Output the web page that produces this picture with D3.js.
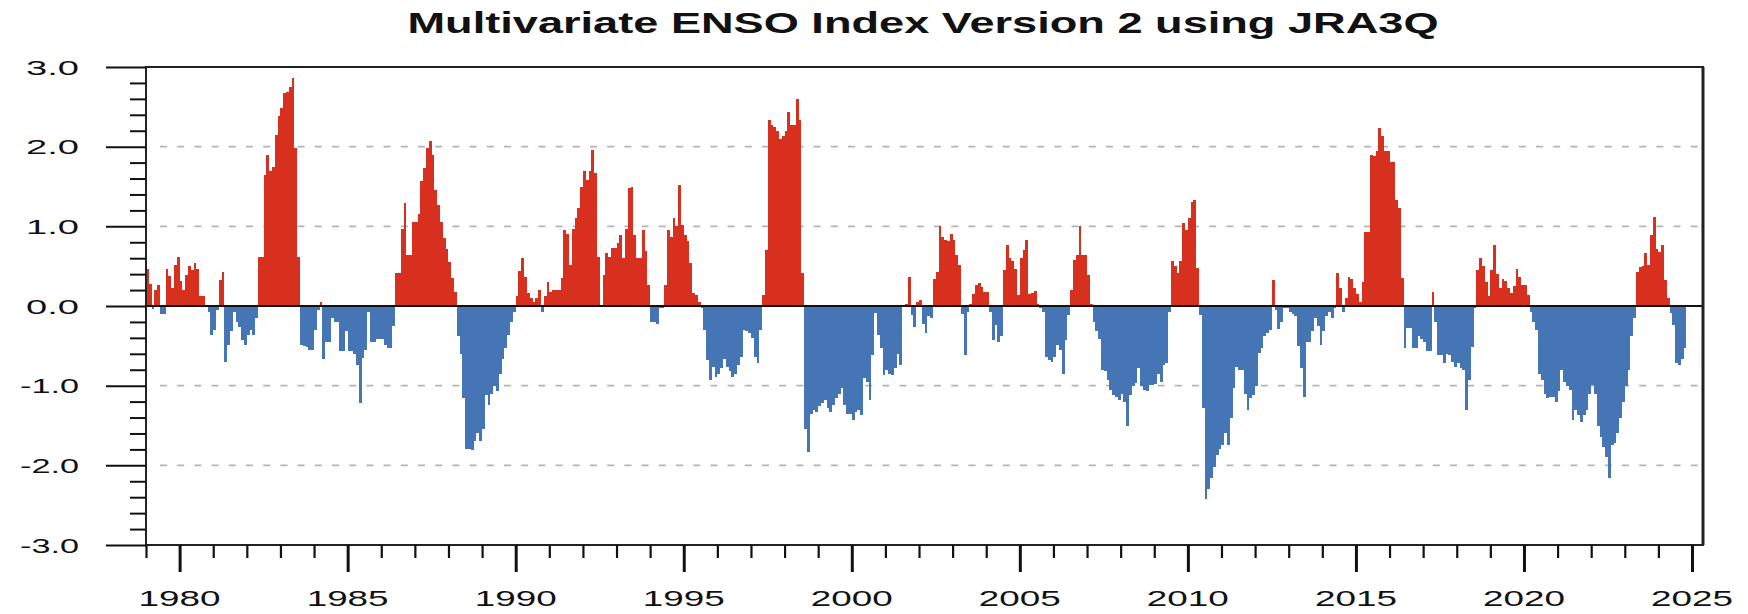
<!DOCTYPE html>
<html><head><meta charset="utf-8">
<script src="https://cdn.jsdelivr.net/npm/d3@7"></script>
<style>html,body{margin:0;padding:0;background:#fff;} svg{display:block;}</style>
</head><body>
<svg id="chart" width="1748" height="614"></svg>
<script>
// ---------------- DATA ----------------
const chartTitle = "Multivariate ENSO Index Version 2 using JRA3Q";
const startYear = 1979;           // first month = Jan 1979, monthly values
const mei1979 = [0.46,0.28,-0.04,0.20,0.26,-0.10,-0.10,0.46,0.38,0.22,0.52,0.62];
const mei1980s = [
  0.32,0.20,0.39,0.50,0.45,0.54,0.46,0.12,0.12,0.01,-0.08,-0.36,
  -0.30,-0.05,0.33,0.43,-0.70,-0.49,-0.32,-0.07,-0.20,-0.26,-0.43,-0.49,
  -0.36,-0.30,-0.36,-0.15,0.62,0.62,1.64,1.90,1.69,1.75,2.15,2.38,
  2.48,2.67,2.68,2.75,2.86,1.98,0.62,-0.49,-0.50,-0.52,-0.55,-0.55,
  -0.30,-0.05,0.05,-0.66,-0.45,-0.45,-0.15,-0.20,-0.20,-0.57,-0.57,-0.32,
  -0.57,-0.57,-0.60,-0.74,-1.22,-0.65,-0.55,-0.07,-0.45,-0.45,-0.42,-0.42,
  -0.42,-0.49,-0.53,-0.53,-0.25,0.41,0.41,0.97,1.29,0.64,0.64,1.06,
  1.05,1.16,1.57,1.73,1.98,2.07,1.90,1.46,1.27,1.05,0.85,0.72,
  0.55,0.35,0.18,-0.38,-0.60,-1.16,-1.79,-1.79,-1.81,-1.70,-1.60,-1.70,
  -1.54,-1.12,-1.24,-1.10,-1.01,-1.07,-0.85,-0.66,-0.53,-0.36,-0.20,-0.07
];
const mei1990s = [
  0.12,0.44,0.60,0.37,0.16,0.10,0.05,0.10,0.20,-0.07,0.12,0.30,
  0.18,0.20,0.20,0.20,0.35,0.95,0.90,0.52,0.97,1.10,1.23,1.50,
  1.69,1.58,1.70,1.96,1.67,0.62,0.01,0.39,0.66,0.62,0.73,0.73,
  0.79,0.89,0.60,0.97,1.48,1.50,0.89,0.60,0.60,0.95,0.69,0.26,
  -0.20,-0.20,-0.22,-0.02,-0.02,0.26,0.95,0.87,1.10,1.00,1.52,1.02,
  0.89,0.81,0.54,0.16,0.14,0.05,-0.02,-0.30,-0.68,-0.93,-0.76,-0.89,
  -0.85,-0.78,-0.66,-0.76,-0.82,-0.89,-0.85,-0.74,-0.64,-0.30,-0.32,-0.34,
  -0.40,-0.64,-0.72,-0.30,0.14,0.70,2.33,2.27,2.25,2.20,2.10,2.13,
  2.20,2.44,2.27,2.27,2.60,2.33,0.41,-1.54,-1.83,-1.35,-1.30,-1.33,
  -1.26,-1.22,-1.18,-1.28,-1.33,-1.24,-1.16,-1.10,-1.03,-1.24,-1.35,-1.35
];
const mei2000s = [
  -1.43,-1.33,-1.30,-1.37,-0.91,-0.95,-1.18,-0.62,-0.09,-0.36,-0.53,-0.87,
  -0.80,-0.85,-0.87,-0.78,-0.60,-0.74,0.00,0.03,0.37,-0.11,-0.26,0.05,
  0.08,-0.22,-0.34,-0.13,-0.15,0.34,0.43,1.00,0.86,0.83,0.81,0.90,
  0.83,0.64,0.52,-0.10,-0.62,-0.07,0.03,0.15,0.26,0.29,0.24,0.18,
  0.17,-0.07,-0.43,-0.24,-0.45,-0.38,0.45,0.77,0.60,0.56,0.47,0.14,
  0.60,0.70,0.83,0.15,0.16,0.19,0.02,-0.03,-0.07,-0.64,-0.68,-0.70,
  -0.64,-0.49,-0.55,-0.85,-0.43,-0.11,0.20,0.58,0.64,1.00,0.64,0.64,
  0.39,0.03,-0.20,-0.32,-0.41,-0.80,-0.82,-0.93,-1.05,-1.12,-1.14,-1.18,
  -1.10,-1.20,-1.51,-1.12,-1.01,-0.97,-0.78,-1.01,-1.05,-1.07,-0.99,-0.99,
  -0.98,-0.85,-0.95,-0.74,-0.72,-0.07,0.56,0.50,0.42,0.56,1.04,0.95
];
const mei2010s = [
  1.10,1.30,1.33,0.48,-0.11,-1.28,-2.42,-2.30,-2.16,-2.02,-1.87,-1.79,
  -1.74,-1.60,-1.74,-1.40,-1.03,-0.76,-0.80,-0.80,-1.10,-1.30,-1.16,-1.12,
  -1.00,-0.59,-0.53,-0.38,-0.34,-0.30,0.33,-0.05,-0.29,-0.20,-0.02,-0.03,
  -0.07,-0.10,-0.12,-0.50,-0.78,-1.14,-0.45,-0.45,-0.32,-0.15,-0.25,-0.49,
  -0.32,-0.13,-0.07,-0.15,-0.02,0.41,0.22,-0.08,0.10,0.37,0.34,0.22,
  0.15,0.05,0.30,0.93,0.93,1.90,1.88,1.95,2.24,2.13,1.94,1.94,
  1.81,1.81,1.33,1.23,0.35,-0.53,-0.28,-0.28,-0.53,-0.53,-0.38,-0.42,
  -0.45,-0.57,-0.57,0.18,-0.20,-0.62,-0.62,-0.72,-0.60,-0.62,-0.70,-0.76,
  -0.72,-0.78,-0.80,-1.30,-0.93,-0.51,-0.03,0.45,0.60,0.50,0.30,0.12,
  0.45,0.77,0.40,0.22,0.34,0.31,0.22,0.16,0.25,0.47,0.37,0.26
];
const mei2020s = [
  0.26,0.14,-0.07,-0.20,-0.30,-0.85,-0.93,-1.10,-1.16,-1.14,-1.14,-1.20,
  -1.07,-0.80,-0.95,-1.00,-1.05,-1.43,-1.30,-1.37,-1.45,-1.37,-1.30,-1.10,
  -0.99,-1.10,-1.50,-1.64,-1.77,-1.89,-2.16,-1.74,-1.72,-1.60,-1.40,-1.20,
  -1.00,-0.80,-0.38,-0.15,0.43,0.49,0.50,0.66,0.51,0.89,1.12,0.72,
  0.68,0.77,0.33,0.10,-0.09,-0.24,-0.72,-0.74,-0.66,-0.53
];
const yTickValues = [3,2,1,0,-1,-2,-3];
const yTickLabels = ["3.0","2.0","1.0","0.0","-1.0","-2.0","-3.0"];
const gridValues = [2,1,-1,-2];
const xLabelYears = [1980,1985,1990,1995,2000,2005,2010,2015,2020,2025];
const xLabelTexts = ["1980","1985","1990","1995","2000","2005","2010","2015","2020","2025"];

// ---------------- CHART ----------------
const values = [].concat(mei1979, mei1980s, mei1990s, mei2000s, mei2010s, mei2020s);
const data = values.map((v, i) => ({ t: startYear + i / 12, v }));

const svg = d3.select("#chart");
const L = 146, R = 1703, T = 67, B = 545;
const x = d3.scaleLinear().domain([1979, 2025.327]).range([L, R]);
const y = d3.scaleLinear().domain([-3, 3]).range([B, T]);
const RED = "#d7301f", BLUE = "#4575b4";
const FONT = "'Liberation Sans', Arial, Helvetica, sans-serif";

svg.append("rect").attr("width", 1748).attr("height", 614).attr("fill", "#fff");

// grid
svg.append("g").selectAll("line").data(gridValues).join("line")
  .attr("x1", L + 14).attr("x2", R).attr("y1", d => y(d)).attr("y2", d => y(d))
  .attr("stroke", "#b4b4b4").attr("stroke-width", 1.6).attr("stroke-dasharray", "7,10.2");

// bars (pixel-snapped, contiguous)
svg.append("g").attr("shape-rendering", "crispEdges")
  .selectAll("rect").data(data).join("rect")
  .attr("x", d => Math.round(x(d.t)))
  .attr("width", d => Math.round(x(d.t + 1 / 12)) - Math.round(x(d.t)))
  .attr("y", d => d.v >= 0 ? y(d.v) : y(0))
  .attr("height", d => Math.abs(y(d.v) - y(0)))
  .attr("fill", d => d.v >= 0 ? RED : BLUE);

// zero line
svg.append("line").attr("x1", L).attr("x2", R).attr("y1", y(0)).attr("y2", y(0))
  .attr("stroke", "#111").attr("stroke-width", 2);

// frame
svg.append("rect").attr("x", L).attr("y", T).attr("width", R - L).attr("height", B - T)
  .attr("fill", "none").attr("stroke", "#222").attr("stroke-width", 2);
svg.append("line").attr("x1", R).attr("x2", R).attr("y1", T).attr("y2", B)
  .attr("stroke", "#222").attr("stroke-width", 3);

// y axis ticks
const yMinor = d3.range(-30, 31, 2).map(d => d / 10).filter(d => Math.abs(d - Math.round(d)) > 1e-6);
const yMinorAxis = d3.axisLeft(y).tickValues(yMinor).tickSize(16).tickFormat("");
const yMajorAxis = d3.axisLeft(y).tickValues(yTickValues).tickSize(40).tickFormat("");
[yMinorAxis, yMajorAxis].forEach(ax => {
  const g = svg.append("g").attr("transform", `translate(${L},0)`).call(ax);
  g.select(".domain").remove();
  g.selectAll("line").attr("stroke", "#111").attr("stroke-width", 2);
});
svg.append("g").selectAll("text").data(yTickValues).join("text")
  .attr("x", 79).attr("y", d => y(d)).attr("dy", "0.36em")
  .attr("text-anchor", "end")
  .attr("font-family", FONT).attr("font-size", 21).attr("fill", "#111")
  .attr("textLength", (d, i) => yTickLabels[i].startsWith("-") ? 59 : 53)
  .attr("lengthAdjust", "spacingAndGlyphs")
  .text((d, i) => yTickLabels[i]);

// x axis ticks
const xYears = d3.range(1979, 2026);
const xMinorAxis = d3.axisBottom(x).tickValues(xYears.filter(yr => yr % 5 !== 0)).tickSize(13).tickFormat("");
const xMajorAxis = d3.axisBottom(x).tickValues(xLabelYears).tickSize(27).tickFormat("");
const gMin = svg.append("g").attr("transform", `translate(0,${B})`).call(xMinorAxis);
gMin.select(".domain").remove();
gMin.selectAll("line").attr("stroke", "#111").attr("stroke-width", 2.2);
const gMaj = svg.append("g").attr("transform", `translate(0,${B})`).call(xMajorAxis);
gMaj.select(".domain").remove();
gMaj.selectAll("line").attr("stroke", "#111").attr("stroke-width", 3);

svg.append("g").selectAll("text").data(xLabelYears).join("text")
  .attr("x", d => x(d)).attr("y", 606)
  .attr("text-anchor", "middle")
  .attr("font-family", FONT).attr("font-size", 22).attr("fill", "#111")
  .attr("textLength", 82).attr("lengthAdjust", "spacingAndGlyphs")
  .text((d, i) => xLabelTexts[i]);

// title
svg.append("text").attr("x", 923).attr("y", 33).attr("text-anchor", "middle")
  .attr("font-family", FONT).attr("font-weight", "bold").attr("font-size", 30).attr("fill", "#111")
  .attr("textLength", 1031).attr("lengthAdjust", "spacingAndGlyphs")
  .text(chartTitle);
</script>
</body></html>
